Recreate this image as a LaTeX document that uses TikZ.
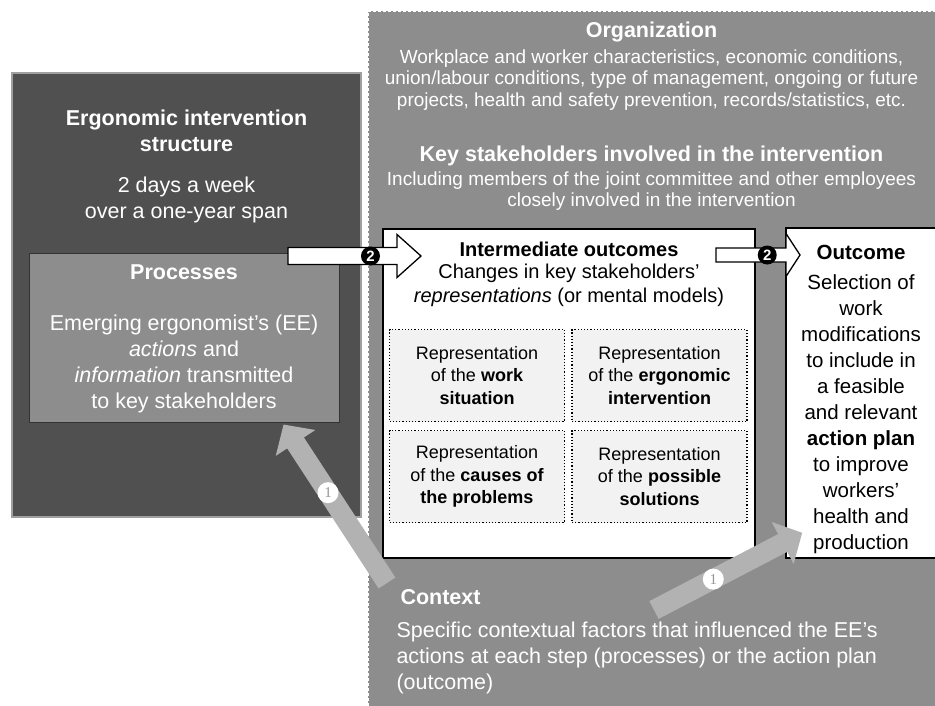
\documentclass[tikz,border=0pt]{standalone}
\usepackage{fontspec}
\setmainfont{Liberation Sans}
\newfontfamily\numfont{Liberation Serif}
\usetikzlibrary{positioning,arrows.meta,calc}
\definecolor{darkpanel}{RGB}{80,80,80}
\definecolor{midpanel}{RGB}{141,141,141}
\definecolor{paleblock}{RGB}{242,242,242}
\definecolor{contextarrow}{RGB}{178,178,178}
\definecolor{badgegray}{RGB}{150,150,150}
\tikzset{
    on grid,
    panel/.style = {
        draw,
        shape=rectangle,
        inner sep=0pt
    },
    structbox/.style = {
        panel,
        fill=darkpanel,
        draw=gray!75,
        line width=1.2pt
    },
    orgbox/.style = {
        panel,
        fill=midpanel,
        draw=white,
        dash pattern=on 3pt off 2pt,
        line width=1pt
    },
    procbox/.style = {
        panel,
        fill=midpanel,
        draw=black!80,
        line width=1pt
    },
    outbox/.style = {
        panel,
        fill=white,
        draw=black,
        line width=1.6pt
    },
    repbox/.style = {
        panel,
        fill=paleblock,
        dotted,
        line width=1.2pt,
        minimum width=175pt,
        minimum height=92pt,
        align=center,
        font=\fontsize{18}{22.5}\selectfont
    },
    headtext/.style = {
        align=center,
        font=\fontsize{21.5}{25.5}\selectfont\bfseries
    },
    bodytext/.style = {
        align=center,
        font=\fontsize{21.5}{26}\selectfont
    },
    orgtext/.style = {
        align=center,
        font=\fontsize{19}{21.5}\selectfont
    },
    pusharrow/.style = {
        draw=black,
        fill=white,
        line width=1.3pt,
        line join=miter
    },
    badge/.style = {
        shape=circle,
        fill=black,
        text=white,
        inner sep=0pt,
        minimum size=19pt,
        font=\fontsize{15}{15}\selectfont\bfseries
    },
    ctxarrow/.style = {
        draw=contextarrow,
        line width=20pt,
        -{Triangle[length=22pt,width=46pt]}
    },
    onebadge/.style = {
        shape=circle,
        fill=white,
        text=badgegray,
        inner sep=0pt,
        minimum size=21pt,
        font=\numfont\fontsize{15}{15}\selectfont
    },
}

\begin{document}
\begin{tikzpicture}[x=1pt, y=-1pt]
    \useasboundingbox[fill=white] (0,0) rectangle (935,705);

    % panels
    \node[orgbox, minimum width=572pt, minimum height=699pt] (org) at (654,360.5) {};
    \node[structbox, minimum width=349pt, minimum height=444pt] (struct) at (186.5,295) {};
    \node[procbox, minimum width=310pt, minimum height=169pt] (proc) at (184,337.5) {};
    \node[outbox, minimum width=372pt, minimum height=329pt] (inter) at (569,393.5) {};
    \node[outbox, minimum width=150pt, minimum height=330pt] (outcome) at (861,393) {};

    % structure side
    \node[headtext, text=white] (structtitle) at (186.5,131) {Ergonomic intervention\\structure};
    \node[bodytext, text=white] (structspan) at (186.5,200) {2 days a week\\over a one-year span};
    \node[headtext, text=white] (proctitle) at (184,272) {Processes};
    \node[bodytext, text=white] (proctext) at (184,364) {Emerging ergonomist's (EE)\\\textit{actions} and\\\textit{information} transmitted\\to key stakeholders};

    % organization
    \node[headtext, text=white] (orgtitle) at (651.5,32) {Organization};
    \node[orgtext, text=white] (orgtext) at (651.5,80) {Workplace and worker characteristics, economic conditions,\\union/labour conditions, type of management, ongoing or future\\projects, health and safety prevention, records/statistics, etc.};
    \node[headtext, text=white] (keytitle) at (651.5,156) {Key stakeholders involved in the intervention};
    \node[orgtext, text=white] (keytext) at (651.5,191) {Including members of the joint committee and other employees\\closely involved in the intervention};

    % intermediate outcomes
    \node[headtext, font=\fontsize{20}{24}\selectfont\bfseries] (intertitle) at (569,249) {Intermediate outcomes};
    \node[bodytext, font=\fontsize{20}{24}\selectfont] (intertext) at (569,285) {Changes in key stakeholders'\\\textit{representations} (or mental models)};
    \node[repbox] (repwork) at (477,375.5) {Representation\\of the \textbf{work}\\\textbf{situation}};
    \node[repbox, right of=repwork, node distance=182.5pt] (repergo) {Representation\\of the \textbf{ergonomic}\\\textbf{intervention}};
    \node[repbox, below of=repwork, node distance=101pt] (repcause) {Representation\\of the \textbf{causes of}\\\textbf{the problems}};
    \node[repbox, right of=repcause, node distance=182.5pt] (repsol) {Representation\\of the \textbf{possible}\\\textbf{solutions}};

    % outcome
    \node[bodytext, font=\fontsize{20.5}{26}\selectfont] (outtext) at (861,399) {\textbf{Outcome}\\[4pt]Selection of\\work\\modifications\\to include in\\a feasible\\and relevant\\\textbf{action plan}\\to improve\\workers'\\health and\\production};

    % context
    \node[headtext, text=white, anchor=west] (ctxtitle) at (397,597) {Context};
    \node[bodytext, text=white, align=left, anchor=west] (ctxtext) at (393,658) {Specific contextual factors that influenced the EE's\\actions at each step (processes) or the action plan\\(outcome)};

    % arrows 2
    \coordinate (pushA) at (288,256);
    \coordinate (pushAtip) at (421,256);
    \coordinate (pushB) at (716,255);
    \coordinate (pushBtip) at (800,255);
    \draw[pusharrow] ($(pushA)+(0,-8.5)$) -- ($(pushAtip)+(-24,-8.5)$) -- ($(pushAtip)+(-24,-21.5)$) -- (pushAtip)
        -- ($(pushAtip)+(-24,21.5)$) -- ($(pushAtip)+(-24,8.5)$) -- ($(pushA)+(0,8.5)$) -- cycle;
    \draw[pusharrow] ($(pushB)+(0,-7)$) -- ($(pushBtip)+(-14,-7)$) -- ($(pushBtip)+(-14,-21.5)$) -- (pushBtip)
        -- ($(pushBtip)+(-14,21.5)$) -- ($(pushBtip)+(-14,7)$) -- ($(pushB)+(0,7)$) -- cycle;
    \path (pushA) -- (pushAtip) node[badge, pos=0.62] (stepA) {2};
    \path (pushB) -- (pushBtip) node[badge, pos=0.61] (stepB) {2};

    % arrows 1
    \coordinate (ctxA) at (387,583);
    \coordinate (ctxB) at (654,610);
    \draw[ctxarrow] (ctxA) -- ($(proc.south west)!0.82!(proc.south east)+(0,2)$) node[onebadge, pos=0.57] (infA) {1};
    \draw[ctxarrow] (ctxB) -- ($(outcome.south west)+(17,-26)$) node[onebadge, pos=0.4] (infB) {1};
\end{tikzpicture}
\end{document}
